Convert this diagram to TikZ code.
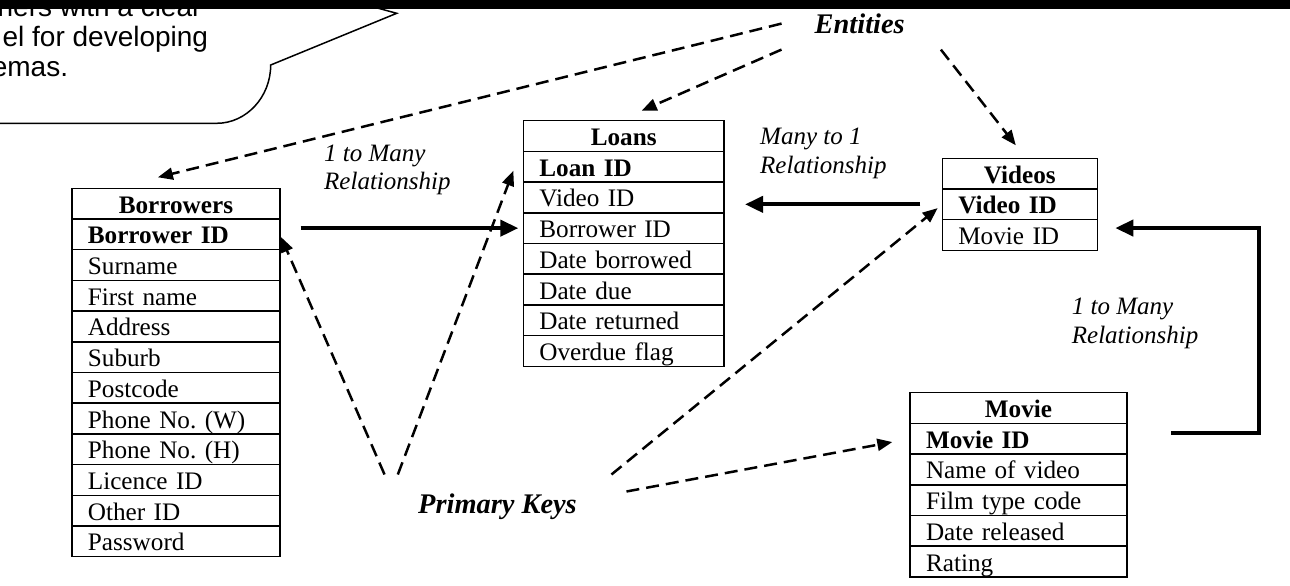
\documentclass[tikz,border=0pt]{standalone}
\usepackage{fontspec}
\setmainfont{Liberation Serif}
\newfontfamily\bubblefont{Liberation Sans}
\usetikzlibrary{positioning,arrows.meta}
\frenchspacing

\tikzset{
  field/.style={draw, line width=1.5pt, inner xsep=16pt, inner ysep=0pt, outer sep=0pt,
    minimum height=30.7pt, text height=19pt, text depth=0pt, align=left,
    font=\fontsize{25.2}{28}\selectfont},
  tablehead/.style={field, align=center, font=\fontsize{25.2}{28}\selectfont\bfseries},
  keyfield/.style={field, font=\fontsize{25.2}{28}\selectfont\bfseries},
  borw/.style={text width=176pt},
  loanw/.style={text width=168.7pt},
  vidw/.style={text width=123pt},
  movw/.style={text width=185pt},
  relnote/.style={inner sep=0pt, align=left, font=\fontsize{25}{28.3}\selectfont\itshape},
  marker/.style={inner sep=0pt, font=\fontsize{28.4}{30}\selectfont\bfseries\itshape},
  bubbletext/.style={inner sep=0pt, anchor=base east, font=\bubblefont\fontsize{28}{30}\selectfont},
  link/.style={line width=4pt, >={Triangle[length=18pt,width=16pt]}},
  pointer/.style={line width=2.5pt, dash pattern=on 13pt off 7pt, >={Triangle[length=15pt,width=12pt]}},
}

\begin{document}
\begin{tikzpicture}[x=1pt, y=-1pt]

  \useasboundingbox (0,0) rectangle (1290,586);
  \clip (0,0) rectangle (1290,586);

  % speech bubble, cut off at the top left
  \draw[line width=1.5pt] (-10,123.3) -- (216.7,123.3)
    .. controls (246.4,123.3) and (270.7,97) .. (270.7,65)
    -- (396.7,13.3) -- (330,-5);
  \node[bubbletext] (bub1) at (201.7,16.7) {ners with a clear};
  \node[bubbletext] (bub2) at (208.3,46.7) {el for developing};
  \node[bubbletext] (bub3) at (68.3,76.7) {emas.};

  % Borrowers
  \node[tablehead, borw] (bor0) at (175.9,203.65) {Borrowers};
  \node[keyfield, borw, below=0pt of bor0] (bor1) {Borrower ID};
  \node[field, borw, below=0pt of bor1] (bor2) {Surname};
  \node[field, borw, below=0pt of bor2] (bor3) {First name};
  \node[field, borw, below=0pt of bor3] (bor4) {Address};
  \node[field, borw, below=0pt of bor4] (bor5) {Suburb};
  \node[field, borw, below=0pt of bor5] (bor6) {Postcode};
  \node[field, borw, below=0pt of bor6] (bor7) {Phone No. (W)};
  \node[field, borw, below=0pt of bor7] (bor8) {Phone No. (H)};
  \node[field, borw, below=0pt of bor8] (bor9) {Licence ID};
  \node[field, borw, below=0pt of bor9] (bor10) {Other ID};
  \node[field, borw, below=0pt of bor10] (bor11) {Password};

  % Loans
  \node[tablehead, loanw] (loan0) at (623.7,136.05) {Loans};
  \node[keyfield, loanw, below=0pt of loan0] (loan1) {Loan ID};
  \node[field, loanw, below=0pt of loan1] (loan2) {Video ID};
  \node[field, loanw, below=0pt of loan2] (loan3) {Borrower ID};
  \node[field, loanw, below=0pt of loan3] (loan4) {Date borrowed};
  \node[field, loanw, below=0pt of loan4] (loan5) {Date due};
  \node[field, loanw, below=0pt of loan5] (loan6) {Date returned};
  \node[field, loanw, below=0pt of loan6] (loan7) {Overdue flag};

  % Videos
  \node[tablehead, vidw] (vid0) at (1019.8,173.65) {Videos};
  \node[keyfield, vidw, below=0pt of vid0] (vid1) {Video ID};
  \node[field, vidw, below=0pt of vid1] (vid2) {Movie ID};

  % Movie
  \node[tablehead, movw] (mov0) at (1018.5,408.05) {Movie};
  \node[keyfield, movw, below=0pt of mov0] (mov1) {Movie ID};
  \node[field, movw, below=0pt of mov1] (mov2) {Name of video};
  \node[field, movw, below=0pt of mov2] (mov3) {Film type code};
  \node[field, movw, below=0pt of mov3] (mov4) {Date released};
  \node[field, movw, below=0pt of mov4] (mov5) {Rating};

  % labels
  \node[relnote, anchor=west] (rel1) at (324,170) {1 to Many\\Relationship};
  \node[relnote, anchor=west] (rel2) at (760,153.4) {Many to 1\\Relationship};
  \node[relnote, anchor=west] (rel3) at (1071.7,323.4) {1 to Many\\Relationship};
  \node[marker, anchor=base] (ent) at (859.7,33.3) {Entities};
  \node[marker, anchor=base] (pk) at (497.5,513) {Primary Keys};

  % relationships
  \draw[link,->,shorten <=20.7pt,shorten >=5pt] (bor1.east |- loan3.west) -- (loan3.west);
  \draw[link,->,shorten <=22pt,shorten >=21pt] (vid1.west) -- (vid1.west -| loan2.east);
  \draw[link,->] ([shift={(44,-6)}]mov1.east) -| ([shift={(162,-7)}]vid2.east)
    -- ([shift={(18,-7)}]vid2.east);

  % entities
  \draw[pointer,->] ([xshift=-33pt]ent.west) -- ([shift={(86,-11)}]bor0.north west);
  \draw[pointer,->] ([shift={(-33,26)}]ent.west) -- ([shift={(18,-10)}]loan0.north);
  \draw[pointer,->] ([shift={(36,26)}]ent.east) -- ([shift={(-4,-13)}]vid0.north);

  % primary keys
  \draw[pointer,->,shorten >=3pt] ([shift={(-33.5,-18.6)}]pk.north west) -- (bor1.east);
  \draw[pointer,->] ([shift={(-20.2,-18.6)}]pk.north west) -- ([shift={(-10,4)}]loan1.west);
  \draw[pointer,->,shorten >=6pt] ([shift={(34.5,-18.6)}]pk.north east) -- (vid1.west);
  \draw[pointer,->,shorten >=18pt] ([shift={(49.5,-1.6)}]pk.north east) -- (mov1.west);

  % black band along the top
  \fill (0,-1) rectangle (1290,9);

\end{tikzpicture}
\end{document}
